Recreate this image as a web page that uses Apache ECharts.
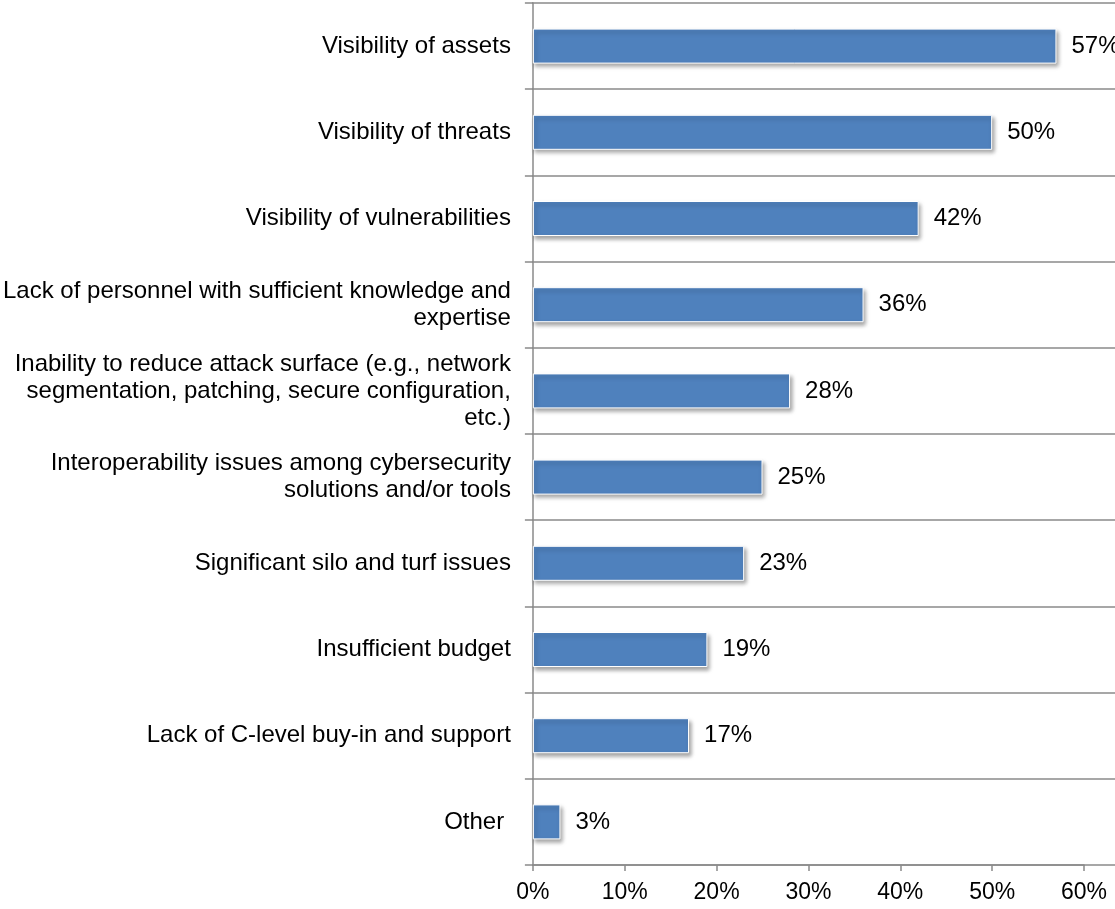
<!DOCTYPE html>
<html>
<head>
<meta charset="utf-8">
<script src="https://cdn.jsdelivr.net/npm/echarts@6/dist/echarts.min.js"></script>
<style>
  html, body { margin: 0; padding: 0; background: #fff; }
  #chart { width: 1115px; height: 909px; }
</style>
</head>
<body>
<div id="chart"></div>
<script>
// Categories listed top to bottom
const categories = [
  'Visibility of assets',
  'Visibility of threats',
  'Visibility of vulnerabilities',
  'Lack of personnel with sufficient knowledge and\nexpertise',
  'Inability to reduce attack surface (e.g., network\nsegmentation, patching, secure configuration,\netc.)',
  'Interoperability issues among cybersecurity\nsolutions and/or tools',
  'Significant silo and turf issues',
  'Insufficient budget',
  'Lack of C-level buy-in and support',
  'Other '
];
// Share of respondents, percent
const values = [57, 50, 42, 36, 28, 25, 23, 19, 17, 3];
const xTicks = [0, 10, 20, 30, 40, 50, 60];

const FONT = '"Liberation Sans", Arial, Helvetica, sans-serif';
const AXIS_GRAY = '#8a8a8a';

const chart = echarts.init(document.getElementById('chart'), null, { renderer: 'canvas' });

chart.setOption({
  animation: false,
  grid: [
    { left: 532, right: 31, top: 3, bottom: 44, containLabel: false },
    { left: 532, right: 0, top: 3, bottom: 44, containLabel: false }
  ],
  xAxis: [
    {
      gridIndex: 0,
      type: 'value',
      min: xTicks[0],
      max: xTicks[xTicks.length - 1],
      interval: 10,
      axisLine: { show: true, lineStyle: { color: AXIS_GRAY, width: 1.5 } },
      axisTick: { show: true, length: 6, lineStyle: { color: AXIS_GRAY, width: 1.5 } },
      axisLabel: {
        formatter: v => v + '%',
        color: '#000',
        fontFamily: FONT,
        fontSize: 23,
        margin: 16
      },
      splitLine: { show: false }
    },
    { gridIndex: 1, type: 'value', min: 0, max: 1, show: false }
  ],
  yAxis: [
    {
      gridIndex: 0,
      type: 'category',
      data: categories,
      inverse: true,
      axisLine: { show: true, lineStyle: { color: AXIS_GRAY, width: 1.5 } },
      axisTick: { show: true, length: 8, lineStyle: { color: AXIS_GRAY, width: 1.5 } },
      axisLabel: {
        color: '#000',
        fontFamily: FONT,
        fontSize: 24,
        lineHeight: 27,
        align: 'right',
        margin: 22
      },
      splitLine: { show: false }
    },
    {
      gridIndex: 1,
      type: 'category',
      data: categories,
      inverse: true,
      axisLine: { show: false },
      axisTick: { show: false },
      axisLabel: { show: false },
      splitLine: { show: true, lineStyle: { color: AXIS_GRAY, width: 1.5 } }
    }
  ],
  series: [
    {
      type: 'bar',
      xAxisIndex: 0,
      yAxisIndex: 0,
      data: values,
      barWidth: 35,
      itemStyle: {
        color: '#4f81bd',
        borderColor: '#ffffff',
        borderWidth: 1,
        shadowColor: 'rgba(0,0,0,0.35)',
        shadowBlur: 4,
        shadowOffsetX: 2,
        shadowOffsetY: 3
      },
      label: {
        show: true,
        position: 'right',
        distance: 15,
        formatter: p => p.value + '%',
        color: '#000',
        fontFamily: FONT,
        fontSize: 24
      }
    }
  ]
});
</script>
</body>
</html>
